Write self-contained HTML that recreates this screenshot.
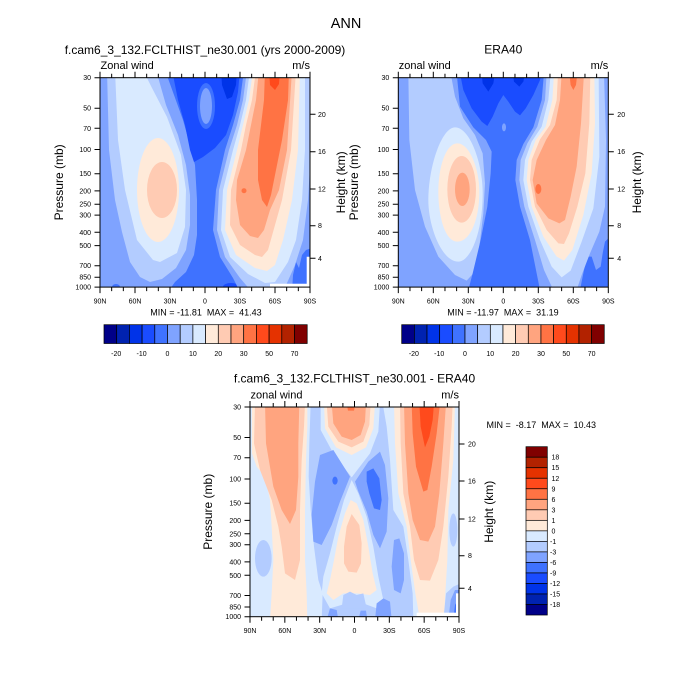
<!DOCTYPE html>
<html><head><meta charset="utf-8"><style>
html,body{margin:0;padding:0;background:#fff}
svg{display:block}
text{font-family:"Liberation Sans",Arial,sans-serif;fill:#000}
.s{font-size:7px}
.m{font-size:12px}
.w{font-size:11px}
.n{font-size:9px;white-space:pre}
.c1{fill:#000088}.c2{fill:#0022b0}.c3{fill:#0033e8}.c4{fill:#1a4cff}.c5{fill:#3f72ff}.c6{fill:#7fa3ff}.c7{fill:#b3ccff}.c8{fill:#d9eaff}
.c9{fill:#ffead9}.c10{fill:#ffcbb3}.c11{fill:#ffa47f}.c12{fill:#ff7344}.c13{fill:#ff4a1c}.c14{fill:#e53200}.c15{fill:#b22200}.c16{fill:#800000}
.tk{stroke:#000;stroke-width:1;fill:none}
.cb rect{stroke:#000;stroke-width:0.7}
</style></head><body>
<svg width="700" height="700" viewBox="0 0 700 700" xmlns="http://www.w3.org/2000/svg">
<defs>
<clipPath id="k1"><rect x="100" y="77.7" width="210" height="209.4"/></clipPath>
<clipPath id="k2"><rect x="398.3" y="77.7" width="210" height="209.4"/></clipPath>
<clipPath id="k3"><rect x="250" y="407" width="209" height="209.7"/></clipPath>
</defs>
<rect width="700" height="700" fill="#fff"/>
<text x="346" y="28" text-anchor="middle" style="font-size:14.5px">ANN</text>

<!-- ===== TOP-LEFT CONTOURS ===== -->
<g clip-path="url(#k1)">
<rect x="95" y="70" width="220" height="225" class="c5"/>
<polygon class="c6" points="95,70 165,70 174,95 183,120 190,145 195,165 197,200 197,235 194,255 186,272 175,282 168,292 95,292"/>
<ellipse class="c5" cx="116" cy="287" rx="4" ry="3"/>
<polygon class="c7" points="107,70 109,150 115,200 122,232 130,262 140,277 150,282 162,279 176,268 186,250 190,225 190,195 186,165 178,135 166,105 156,70"/>
<polygon class="c8" points="115,70 118,140 125,190 137,240 153,260 160,262 177,253 185,227 186,190 181,155 167,117 152,88 143,70"/>
<ellipse class="c9" cx="158" cy="190" rx="21" ry="52"/>
<ellipse class="c10" cx="162" cy="190" rx="15" ry="28"/>
<polygon class="c4" points="172,70 240,70 238,92 233,115 226,135 215,148 203,157 194,162 190,150 185,125 178,100"/>
<ellipse class="c5" cx="206" cy="106" rx="9" ry="23"/>
<ellipse class="c6" cx="206" cy="106" rx="6" ry="18"/>
<polygon class="c3" points="221,70 222,85 227,99 232,97 236,85 237,70"/>
<ellipse class="c4" cx="231" cy="287" rx="8" ry="4"/>
<polygon class="c6" points="244,70 240,100 233,125 225,150 216,190 213,230 220,257 233,278 240,292 320,292 320,70"/>
<polygon class="c5" points="292,292 293,275 296,262 299,268 302,255 306,250 312,248 312,292"/>
<polygon class="c7" points="247,70 243,100 237,125 229,150 219,190 217,230 225,257 240,278 252,292 283,292 295,265 303,240 308,200 311,150 312,70"/>
<polygon class="c8" points="250,70 246,100 240,125 233,150 223,190 221,230 230,257 248,274 265,283 275,282 288,262 296,240 302,200 305,150 305,70"/>
<polygon class="c9" points="253,70 249,100 243,125 237,150 227,190 225,230 236,255 255,268 267,271 275,265 283,240 292,200 298,150 300,70"/>
<polygon class="c10" points="256,70 252,100 246,125 241,150 231,190 230,225 240,245 255,255 262,257 268,250 275,225 282,200 291,150 296,70"/>
<polygon class="c11" points="259,70 256,100 251,125 246,150 237,180 236,200 240,225 250,236 258,238 264,230 270,210 279,190 287,150 292,70"/>
<polygon class="c12" points="265,70 264,100 261,125 258,150 258,180 262,200 267,207 271,195 276,170 282,140 288,100 289,70"/>
<circle class="c12" cx="244" cy="190.7" r="2.5"/>
<polygon class="c13" points="269,70 270,85 275,90 279,84 280,70"/>
<polygon fill="#fff" points="270,283.7 306.7,283.7 306.7,256.7 312,256.7 312,292 270,292"/>
</g>

<!-- ===== TOP-RIGHT CONTOURS ===== -->
<g clip-path="url(#k2)"><g transform="translate(360,40) scale(0.333333)">
<rect x="105" y="100" width="660" height="660" class="c6"/>
<polygon class="c7" points="145,100 148,300 165,450 195,560 235,650 285,705 320,722 340,700 358,620 370,520 375,430 368,340 345,285 310,235 285,170 272,100"/>
<path class="c8" d="M285,262 C330,262 368,370 368,460 C368,580 330,665 295,665 C245,665 205,560 205,480 C205,380 245,262 285,262 Z"/>
<path class="c9" d="M292,310 C330,310 358,390 358,455 C358,540 330,605 292,605 C255,605 235,530 235,455 C235,380 258,310 292,310 Z"/>
<ellipse class="c10" cx="305" cy="448" rx="43" ry="100"/>
<ellipse class="c11" cx="307" cy="448" rx="22" ry="50"/>
<polygon class="c5" points="290,100 300,200 340,262 378,300 395,335 392,400 382,500 362,600 338,700 325,750 540,750 530,700 510,600 480,500 466,420 470,360 490,312 520,262 545,180 552,100"/>
<polygon class="c4" points="300,100 310,150 335,205 365,245 382,258 398,230 415,190 430,165 445,185 465,215 480,226 497,205 520,165 540,120 545,100"/>
<polygon class="c3" points="365,100 368,130 385,155 400,130 405,100"/>
<polygon class="c3" points="458,100 462,125 478,140 490,125 495,100"/>
<ellipse class="c6" cx="432" cy="262" rx="6" ry="12"/>
<polygon class="c5" points="750,590 735,605 728,640 722,680 708,690 695,650 682,650 672,690 660,750 750,750"/>
<polygon class="c7" points="560,100 555,180 532,260 502,310 482,360 478,420 493,500 525,600 552,690 580,750 650,750 665,705 690,640 718,575 735,500 738,300 732,100"/>
<polygon class="c8" points="572,100 565,180 545,260 515,305 495,360 490,420 505,500 540,600 575,680 605,712 632,692 665,605 700,505 718,350 716,100"/>
<polygon class="c9" points="582,100 577,180 557,260 527,300 505,360 500,420 515,500 550,590 590,650 612,662 637,630 670,525 695,400 705,250 703,100"/>
<polygon class="c10" points="594,100 590,180 570,255 540,298 515,360 510,420 525,500 560,570 595,610 612,612 627,580 652,500 676,400 688,250 691,100"/>
<polygon class="c11" points="605,100 600,180 585,255 558,300 530,360 518,420 530,490 565,535 598,550 615,540 632,470 650,380 663,250 672,100"/>
<ellipse class="c12" cx="535" cy="447" rx="9" ry="15"/>
<polygon class="c12" points="628,100 632,135 640,150 648,135 652,100"/>
</g></g>

<!-- ===== BOTTOM CONTOURS ===== -->
<g clip-path="url(#k3)"><g transform="translate(190,360) scale(0.333333)">
<rect x="170" y="130" width="650" height="650" class="c8"/>
<polygon class="c9" points="186,130 186,280 200,320 225,350 240,420 245,500 250,600 245,700 240,780 352,780 350,700 345,600 345,450 348,300 352,200 352,130"/>
<polygon class="c10" points="195,130 192,250 210,330 245,420 265,500 275,560 285,640 315,660 330,600 330,450 335,300 342,200 345,130"/>
<polygon class="c11" points="225,130 228,250 250,380 275,450 300,492 318,450 325,350 325,250 328,130"/>
<ellipse class="c7" cx="220" cy="595" rx="25" ry="55"/>
<polygon class="c7" points="362,130 358,250 356,350 362,450 372,560 385,660 398,700 395,780 670,780 668,700 655,600 640,500 610,450 600,300 590,200 578,130"/>
<polygon class="c8" points="392,130 392,210 430,280 485,352 540,280 565,215 570,130"/>
<polygon class="c9" points="402,130 405,205 438,262 485,285 528,262 550,205 555,130"/>
<polygon class="c10" points="410,130 415,200 445,245 485,262 520,245 538,195 542,130"/>
<polygon class="c11" points="425,130 430,190 455,230 485,240 512,225 525,185 528,130"/>
<polygon class="c12" points="470,130 474,152 492,152 496,130"/>
<polygon class="c6" points="390,285 430,270 480,350 450,425 425,495 395,555 370,545 365,465 375,365"/>
<polygon class="c6" points="495,365 535,305 570,275 585,315 595,415 590,515 570,565 550,525 530,455 505,395"/>
<ellipse class="c5" cx="435" cy="362" rx="8" ry="12"/>
<polygon class="c5" points="530,335 550,325 568,355 575,420 570,450 552,445 538,400 530,365"/>
<polygon class="c8" points="485,360 462,420 440,500 420,580 400,650 395,700 420,745 470,730 520,730 560,745 580,720 565,650 550,560 530,470 505,400"/>
<polygon class="c9" points="482,420 465,460 445,530 432,600 420,660 410,700 430,720 460,700 500,700 540,705 560,690 548,640 535,560 520,480 500,430"/>
<polygon class="c10" points="485,462 470,500 462,560 462,610 475,635 500,638 513,610 515,550 508,495"/>
<polygon class="c7" points="455,745 460,705 480,695 500,705 520,700 530,745"/>
<polygon class="c6" points="555,780 560,730 580,715 600,725 605,780"/>
<polygon class="c6" points="410,780 420,745 440,750 445,780"/>
<polygon class="c6" points="505,780 512,752 528,752 532,780"/>
<polygon class="c6" points="612,540 628,535 642,580 642,660 632,700 612,690 605,620"/>
<polygon class="c9" points="612,130 615,250 625,400 650,500 662,600 676,700 690,780 762,780 766,700 772,600 775,450 790,300 795,130"/>
<polygon class="c10" points="630,130 632,250 640,400 660,500 672,600 690,660 720,662 745,600 760,500 775,350 785,200 788,130"/>
<polygon class="c11" points="642,130 645,250 655,400 668,480 690,540 715,545 735,500 748,400 760,250 768,130"/>
<polygon class="c12" points="665,130 668,220 678,320 700,395 712,390 725,320 740,220 750,130"/>
<polygon class="c13" points="688,130 692,200 705,262 718,230 728,180 732,130"/>
<ellipse class="c7" cx="790" cy="510" rx="12" ry="50"/>
<polygon class="c7" points="760,780 768,700 790,680 812,670 812,780"/>
<polygon class="c6" points="775,780 782,720 795,690 812,690 812,780"/>
<polygon class="c5" points="790,780 795,735 812,705 812,780"/>
<rect x="680" y="758" width="140" height="30" fill="#fff"/>
<rect x="798" y="700" width="20" height="90" fill="#fff"/>
</g></g>

<!-- ===== FRAME TOP-LEFT ===== -->
<g transform="translate(100,77.7)">
<rect x="0" y="0" width="210" height="209.4" class="tk"/>
<path class="tk" d="M0,0V-6M35,0V-6M70,0V-6M105,0V-6M140,0V-6M175,0V-6M210,0V-6M11.67,0V-4M23.33,0V-4M46.67,0V-4M58.33,0V-4M81.67,0V-4M93.33,0V-4M116.67,0V-4M128.33,0V-4M151.67,0V-4M163.33,0V-4M186.67,0V-4M198.33,0V-4
M0,209.4V215.4M35,209.4V215.4M70,209.4V215.4M105,209.4V215.4M140,209.4V215.4M175,209.4V215.4M210,209.4V215.4M11.67,209.4V213.4M23.33,209.4V213.4M46.67,209.4V213.4M58.33,209.4V213.4M81.67,209.4V213.4M93.33,209.4V213.4M116.67,209.4V213.4M128.33,209.4V213.4M151.67,209.4V213.4M163.33,209.4V213.4M186.67,209.4V213.4M198.33,209.4V213.4
M0,0H-5.5M0,30.5H-5.5M0,50.6H-5.5M0,71.8H-5.5M0,96H-5.5M0,113.2H-5.5M0,126.5H-5.5M0,137.4H-5.5M0,154.6H-5.5M0,167.9H-5.5M0,188H-5.5M0,199.5H-5.5M0,209.4H-5.5
M210,36.6H215.5M210,74H215.5M210,111.3H215.5M210,148H215.5M210,180.6H215.5"/>
<g class="s" text-anchor="end">
<text x="-9" y="2.5">30</text><text x="-9" y="33">50</text><text x="-9" y="53.1">70</text><text x="-9" y="74.3">100</text><text x="-9" y="98.5">150</text><text x="-9" y="115.7">200</text><text x="-9" y="129">250</text><text x="-9" y="139.9">300</text><text x="-9" y="157.1">400</text><text x="-9" y="170.4">500</text><text x="-9" y="190.5">700</text><text x="-9" y="202">850</text><text x="-9" y="211.9">1000</text>
</g>
<g class="s" text-anchor="middle">
<text x="0" y="226">90N</text><text x="35" y="226">60N</text><text x="70" y="226">30N</text><text x="105" y="226">0</text><text x="140" y="226">30S</text><text x="175" y="226">60S</text><text x="210" y="226">90S</text>
</g>
<g class="s">
<text x="218" y="39.1">20</text><text x="218" y="76.5">16</text><text x="218" y="113.8">12</text><text x="218" y="150.5">8</text><text x="218" y="183.1">4</text>
</g>
<text class="w" x="0.5" y="-8.7">Zonal wind</text>
<text class="w" x="210" y="-8.7" text-anchor="end">m/s</text>
<text class="m" x="105" y="-23.7" text-anchor="middle">f.cam6_3_132.FCLTHIST_ne30.001 (yrs 2000-2009)</text>
<text class="m" transform="translate(-37,104.7) rotate(-90)" text-anchor="middle">Pressure (mb)</text>
<text class="m" transform="translate(245,104.7) rotate(-90)" text-anchor="middle">Height (km)</text>
</g>

<!-- ===== FRAME TOP-RIGHT ===== -->
<g transform="translate(398.3,77.7)">
<rect x="0" y="0" width="210" height="209.4" class="tk"/>
<path class="tk" d="M0,0V-6M35,0V-6M70,0V-6M105,0V-6M140,0V-6M175,0V-6M210,0V-6M11.67,0V-4M23.33,0V-4M46.67,0V-4M58.33,0V-4M81.67,0V-4M93.33,0V-4M116.67,0V-4M128.33,0V-4M151.67,0V-4M163.33,0V-4M186.67,0V-4M198.33,0V-4
M0,209.4V215.4M35,209.4V215.4M70,209.4V215.4M105,209.4V215.4M140,209.4V215.4M175,209.4V215.4M210,209.4V215.4M11.67,209.4V213.4M23.33,209.4V213.4M46.67,209.4V213.4M58.33,209.4V213.4M81.67,209.4V213.4M93.33,209.4V213.4M116.67,209.4V213.4M128.33,209.4V213.4M151.67,209.4V213.4M163.33,209.4V213.4M186.67,209.4V213.4M198.33,209.4V213.4
M0,0H-5.5M0,30.5H-5.5M0,50.6H-5.5M0,71.8H-5.5M0,96H-5.5M0,113.2H-5.5M0,126.5H-5.5M0,137.4H-5.5M0,154.6H-5.5M0,167.9H-5.5M0,188H-5.5M0,199.5H-5.5M0,209.4H-5.5
M210,36.6H215.5M210,74H215.5M210,111.3H215.5M210,148H215.5M210,180.6H215.5"/>
<g class="s" text-anchor="end">
<text x="-9" y="2.5">30</text><text x="-9" y="33">50</text><text x="-9" y="53.1">70</text><text x="-9" y="74.3">100</text><text x="-9" y="98.5">150</text><text x="-9" y="115.7">200</text><text x="-9" y="129">250</text><text x="-9" y="139.9">300</text><text x="-9" y="157.1">400</text><text x="-9" y="170.4">500</text><text x="-9" y="190.5">700</text><text x="-9" y="202">850</text><text x="-9" y="211.9">1000</text>
</g>
<g class="s" text-anchor="middle">
<text x="0" y="226">90N</text><text x="35" y="226">60N</text><text x="70" y="226">30N</text><text x="105" y="226">0</text><text x="140" y="226">30S</text><text x="175" y="226">60S</text><text x="210" y="226">90S</text>
</g>
<g class="s">
<text x="219" y="39.1">20</text><text x="219" y="76.5">16</text><text x="219" y="113.8">12</text><text x="219" y="150.5">8</text><text x="219" y="183.1">4</text>
</g>
<text class="w" x="0.5" y="-8.7">zonal wind</text>
<text class="w" x="210" y="-8.7" text-anchor="end">m/s</text>
<text class="m" x="105" y="-24" text-anchor="middle">ERA40</text>
<text class="m" transform="translate(-40.3,104.7) rotate(-90)" text-anchor="middle">Pressure (mb)</text>
<text class="m" transform="translate(242.7,104.7) rotate(-90)" text-anchor="middle">Height (km)</text>
</g>

<!-- ===== FRAME BOTTOM ===== -->
<g transform="translate(250,407)">
<rect x="0" y="0" width="209" height="209.7" class="tk"/>
<path class="tk" d="M0,0V-6M34.83,0V-6M69.67,0V-6M104.5,0V-6M139.33,0V-6M174.17,0V-6M209,0V-6M11.61,0V-4M23.22,0V-4M46.44,0V-4M58.06,0V-4M81.28,0V-4M92.89,0V-4M116.11,0V-4M127.72,0V-4M150.94,0V-4M162.56,0V-4M185.78,0V-4M197.39,0V-4
M0,209.7V215.7M34.83,209.7V215.7M69.67,209.7V215.7M104.5,209.7V215.7M139.33,209.7V215.7M174.17,209.7V215.7M209,209.7V215.7M11.61,209.7V213.7M23.22,209.7V213.7M46.44,209.7V213.7M58.06,209.7V213.7M81.28,209.7V213.7M92.89,209.7V213.7M116.11,209.7V213.7M127.72,209.7V213.7M150.94,209.7V213.7M162.56,209.7V213.7M185.78,209.7V213.7M197.39,209.7V213.7
M0,0H-5.5M0,30.5H-5.5M0,50.7H-5.5M0,72H-5.5M0,96.2H-5.5M0,113.4H-5.5M0,126.8H-5.5M0,137.7H-5.5M0,154.9H-5.5M0,168.3H-5.5M0,188.5H-5.5M0,200H-5.5M0,209.7H-5.5
M209,37H214.5M209,74H214.5M209,112H214.5M209,148.7H214.5M209,181.3H214.5"/>
<g class="s" text-anchor="end">
<text x="-9" y="2.5">30</text><text x="-9" y="33">50</text><text x="-9" y="53.2">70</text><text x="-9" y="74.5">100</text><text x="-9" y="98.7">150</text><text x="-9" y="115.9">200</text><text x="-9" y="129.3">250</text><text x="-9" y="140.2">300</text><text x="-9" y="157.4">400</text><text x="-9" y="170.8">500</text><text x="-9" y="191">700</text><text x="-9" y="202.5">850</text><text x="-9" y="212.2">1000</text>
</g>
<g class="s" text-anchor="middle">
<text x="0" y="226">90N</text><text x="34.83" y="226">60N</text><text x="69.67" y="226">30N</text><text x="104.5" y="226">0</text><text x="139.33" y="226">30S</text><text x="174.17" y="226">60S</text><text x="209" y="226">90S</text>
</g>
<g class="s">
<text x="218" y="39.5">20</text><text x="218" y="76.5">16</text><text x="218" y="114.5">12</text><text x="218" y="151.2">8</text><text x="218" y="183.8">4</text>
</g>
<text class="w" x="0.5" y="-8.5">zonal wind</text>
<text class="w" x="209" y="-8.5" text-anchor="end">m/s</text>
<text class="m" x="104.5" y="-24.5" text-anchor="middle">f.cam6_3_132.FCLTHIST_ne30.001 - ERA40</text>
<text class="m" transform="translate(-38,104.8) rotate(-90)" text-anchor="middle">Pressure (mb)</text>
<text class="m" transform="translate(243,104.8) rotate(-90)" text-anchor="middle">Height (km)</text>
</g>

<!-- MIN/MAX -->
<text class="n" x="206" y="315.5" text-anchor="middle">MIN = -11.81  MAX =  41.43</text>
<text class="n" x="503" y="315.5" text-anchor="middle">MIN = -11.97  MAX =  31.19</text>
<text class="n" x="486.5" y="428">MIN =  -8.17  MAX =  10.43</text>

<!-- COLORBAR TOP-LEFT -->
<g class="cb">
<rect x="104" y="324.7" width="12.7" height="18.8" class="c1"/><rect x="116.7" y="324.7" width="12.7" height="18.8" class="c2"/><rect x="129.4" y="324.7" width="12.7" height="18.8" class="c3"/><rect x="142.1" y="324.7" width="12.7" height="18.8" class="c4"/><rect x="154.8" y="324.7" width="12.7" height="18.8" class="c5"/><rect x="167.5" y="324.7" width="12.7" height="18.8" class="c6"/><rect x="180.2" y="324.7" width="12.7" height="18.8" class="c7"/><rect x="192.9" y="324.7" width="12.7" height="18.8" class="c8"/><rect x="205.6" y="324.7" width="12.7" height="18.8" class="c9"/><rect x="218.3" y="324.7" width="12.7" height="18.8" class="c10"/><rect x="231" y="324.7" width="12.7" height="18.8" class="c11"/><rect x="243.7" y="324.7" width="12.7" height="18.8" class="c12"/><rect x="256.4" y="324.7" width="12.7" height="18.8" class="c13"/><rect x="269.1" y="324.7" width="12.7" height="18.8" class="c14"/><rect x="281.8" y="324.7" width="12.7" height="18.8" class="c15"/><rect x="294.5" y="324.7" width="12.7" height="18.8" class="c16"/>
</g>
<g class="s" text-anchor="middle">
<text x="116.2" y="356">-20</text><text x="141.6" y="356">-10</text><text x="167.5" y="356">0</text><text x="192.9" y="356">10</text><text x="218.3" y="356">20</text><text x="243.7" y="356">30</text><text x="269.1" y="356">50</text><text x="294.5" y="356">70</text>
</g>

<!-- COLORBAR TOP-RIGHT -->
<g class="cb">
<rect x="401.7" y="324.7" width="12.66" height="18.8" class="c1"/><rect x="414.36" y="324.7" width="12.66" height="18.8" class="c2"/><rect x="427.02" y="324.7" width="12.66" height="18.8" class="c3"/><rect x="439.68" y="324.7" width="12.66" height="18.8" class="c4"/><rect x="452.34" y="324.7" width="12.66" height="18.8" class="c5"/><rect x="465" y="324.7" width="12.66" height="18.8" class="c6"/><rect x="477.66" y="324.7" width="12.66" height="18.8" class="c7"/><rect x="490.32" y="324.7" width="12.66" height="18.8" class="c8"/><rect x="502.98" y="324.7" width="12.66" height="18.8" class="c9"/><rect x="515.64" y="324.7" width="12.66" height="18.8" class="c10"/><rect x="528.3" y="324.7" width="12.66" height="18.8" class="c11"/><rect x="540.96" y="324.7" width="12.66" height="18.8" class="c12"/><rect x="553.62" y="324.7" width="12.66" height="18.8" class="c13"/><rect x="566.28" y="324.7" width="12.66" height="18.8" class="c14"/><rect x="578.94" y="324.7" width="12.66" height="18.8" class="c15"/><rect x="591.6" y="324.7" width="12.66" height="18.8" class="c16"/>
</g>
<g class="s" text-anchor="middle">
<text x="413.9" y="356">-20</text><text x="439.2" y="356">-10</text><text x="465" y="356">0</text><text x="490.3" y="356">10</text><text x="515.6" y="356">20</text><text x="541" y="356">30</text><text x="566.3" y="356">50</text><text x="591.6" y="356">70</text>
</g>

<!-- COLORBAR BOTTOM (vertical) -->
<g class="cb">
<rect x="526" y="446.7" width="21.3" height="10.52" class="c16"/><rect x="526" y="457.22" width="21.3" height="10.52" class="c15"/><rect x="526" y="467.74" width="21.3" height="10.52" class="c14"/><rect x="526" y="478.26" width="21.3" height="10.52" class="c13"/><rect x="526" y="488.78" width="21.3" height="10.52" class="c12"/><rect x="526" y="499.3" width="21.3" height="10.52" class="c11"/><rect x="526" y="509.82" width="21.3" height="10.52" class="c10"/><rect x="526" y="520.34" width="21.3" height="10.52" class="c9"/><rect x="526" y="530.86" width="21.3" height="10.52" class="c8"/><rect x="526" y="541.38" width="21.3" height="10.52" class="c7"/><rect x="526" y="551.9" width="21.3" height="10.52" class="c6"/><rect x="526" y="562.42" width="21.3" height="10.52" class="c5"/><rect x="526" y="572.94" width="21.3" height="10.52" class="c4"/><rect x="526" y="583.46" width="21.3" height="10.52" class="c3"/><rect x="526" y="593.98" width="21.3" height="10.52" class="c2"/><rect x="526" y="604.5" width="21.3" height="10.52" class="c1"/>
</g>
<g class="s">
<text x="551.5" y="459.7">18</text><text x="551.5" y="470.2">15</text><text x="551.5" y="480.8">12</text><text x="551.5" y="491.3">9</text><text x="551.5" y="501.8">6</text><text x="551.5" y="512.3">3</text><text x="551.5" y="522.8">1</text><text x="551.5" y="533.4">0</text><text x="550" y="543.9">-1</text><text x="550" y="554.4">-3</text><text x="550" y="564.9">-6</text><text x="550" y="575.5">-9</text><text x="550" y="586">-12</text><text x="550" y="596.5">-15</text><text x="550" y="607">-18</text>
</g>
</svg>
</body></html>
